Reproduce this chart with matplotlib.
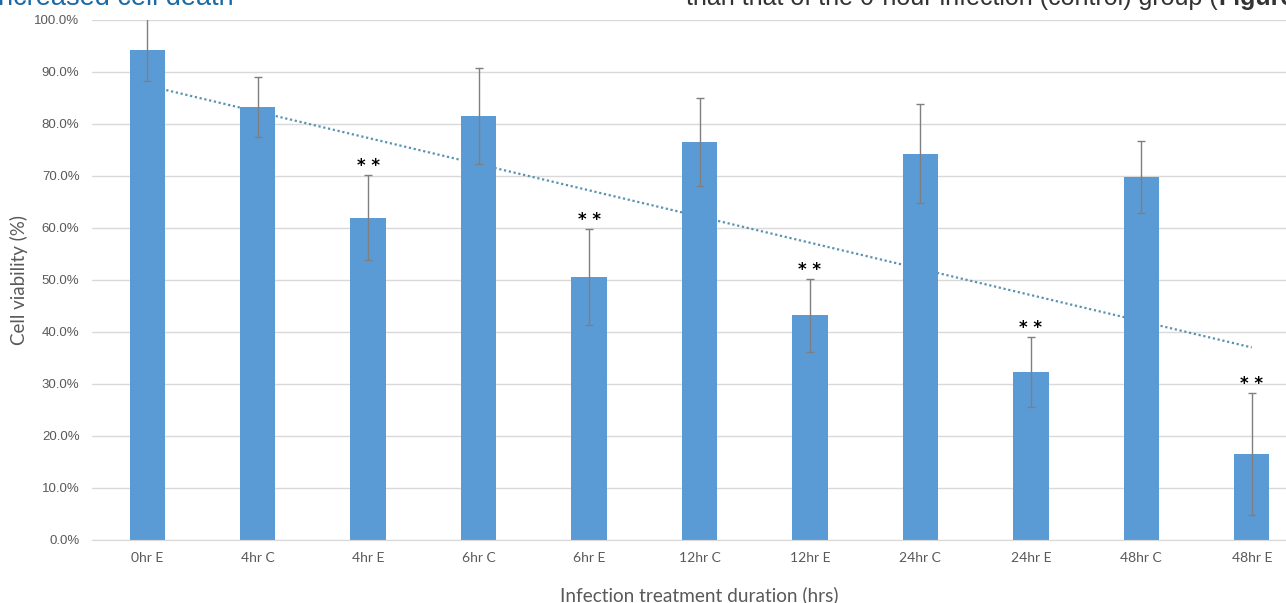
import numpy as np
import matplotlib
matplotlib.use("Agg")
import matplotlib.pyplot as plt
from matplotlib.ticker import FuncFormatter

categories = ["0hr E", "4hr C", "4hr E", "6hr C", "6hr E", "12hr C",
              "12hr E", "24hr C", "24hr E", "48hr C", "48hr E"]
viability = [94.3, 83.3, 62.0, 81.5, 50.6, 76.5, 43.2, 74.3, 32.3, 69.8, 16.5]
errors = [6.0, 5.8, 8.2, 9.2, 9.3, 8.5, 7.0, 9.5, 6.8, 7.0, 11.7]
significant = [False, False, True, False, True, False, True, False, True, False, True]
yticks = [0, 10, 20, 30, 40, 50, 60, 70, 80, 90, 100]

bar_color = "#5b9bd5"
grid_color = "#d9d9d9"
tick_color = "#595959"

W, H = 1286, 603
fig = plt.figure(figsize=(W / 100, H / 100), dpi=100)
ax = fig.add_axes([92 / W, 63 / H, 1215 / W, 520 / H])

x = np.arange(len(categories))

# linear trendline, drawn behind bars like excel does
slope, intercept = np.polyfit(x, viability, 1)
ax.plot([x[0], x[-1]], [intercept, intercept + slope * x[-1]],
        color="#5a93b0", linestyle=(0, (1, 1.2)), linewidth=1.6, zorder=1)

ax.bar(x, viability, width=0.32, color=bar_color, zorder=2)
ax.errorbar(x, viability, yerr=errors, fmt="none", ecolor="#7f7f7f",
            elinewidth=1.0, capsize=3, capthick=1.0, zorder=3)

for i in range(len(categories)):
    if significant[i]:
        ax.text(x[i], viability[i] + errors[i], "* *", ha="center", va="bottom",
                fontsize=12, color="black", family="DejaVu Sans", weight="bold")

ax.set_xlim(-0.5, 10.5)
ax.set_ylim(0, 100)
ax.set_yticks(yticks)
ax.yaxis.set_major_formatter(FuncFormatter(lambda v, p: f"{v:.1f}%"))
ax.set_xticks(x)
ax.set_xticklabels(categories, family="Lato", fontsize=10, color=tick_color)
for lab in ax.get_yticklabels():
    lab.set_family("Liberation Sans")
    lab.set_fontsize(9.5)
    lab.set_color(tick_color)
ax.tick_params(axis="both", length=0)
ax.tick_params(axis="x", pad=9)
ax.tick_params(axis="y", pad=9)

ax.grid(axis="y", color=grid_color, linewidth=1.0, zorder=0)
ax.set_axisbelow(True)
for side in ["top", "right", "left"]:
    ax.spines[side].set_visible(False)
ax.spines["bottom"].set_color(grid_color)

ax.set_ylabel("Cell viability (%)", family="Lato", fontsize=13.5, color=tick_color)
ax.yaxis.set_label_coords(-64 / 1215, 0.5)
ax.set_xlabel("Infection treatment duration (hrs)", family="Lato", fontsize=13.7,
              color=tick_color)
ax.xaxis.set_label_coords(0.5, -46 / 520)

# bits of page text cut off at the top of the screenshot
base_y = 1 - 5 / H
fig.text(-8 / W, base_y, "increased cell death", color="#1b6aa5",
         fontsize=19.5, family="Liberation Sans", va="baseline", ha="left")
t = fig.text(686 / W, base_y, "than that of the 0-hour infection (control) group (",
             color="#333333", fontsize=18, family="Liberation Sans", va="baseline", ha="left")
fig.canvas.draw()
right_edge = t.get_window_extent().x1 / W
fig.text(right_edge + 1 / W, base_y, "Figure", color="#333333", fontsize=18,
         family="Liberation Sans", weight="bold", va="baseline", ha="left")

fig.savefig("out.png", dpi=100)
